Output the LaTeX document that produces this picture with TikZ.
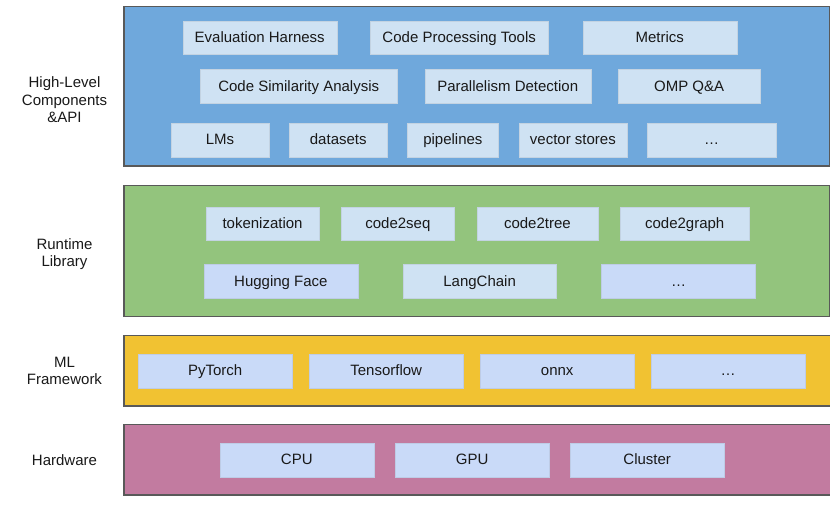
\documentclass[tikz,border=0pt]{standalone}
\usepackage{fontspec}
\setmainfont{Liberation Sans}
\definecolor{layblue}{HTML}{6FA8DC}
\definecolor{laygreen}{HTML}{93C47D}
\definecolor{layyellow}{HTML}{F1C232}
\definecolor{laypink}{HTML}{C27BA0}
\definecolor{boxa}{HTML}{CFE2F3}
\definecolor{boxb}{HTML}{C9DAF8}
\definecolor{edge}{HTML}{595959}
\begin{document}
\begin{tikzpicture}[x=1pt,y=-1pt,
  every node/.style={font=\fontsize{15}{17.5}\selectfont, inner sep=0pt, text=black!90},
  layer/.style={draw=edge, line width=1.2pt},
  boxbase/.style={anchor=north west, line width=0.4pt, text height=12.4pt, text depth=3.2pt},
  box/.style={boxbase, fill=boxa, draw=boxa!85!gray},
  boxv/.style={boxbase, fill=boxb, draw=boxb!85!gray},
  lab/.style={align=center}]
\useasboundingbox[fill=white] (0,0) rectangle (830,515);
% layers
\fill[layblue] (124,6.5) rectangle (829.5,166);
\draw[layer] (124,6.5) rectangle (829.5,166);
\fill[laygreen] (124,185.5) rectangle (829.5,316.5);
\draw[layer] (124,185.5) rectangle (829.5,316.5);
\fill[layyellow] (124,335.5) rectangle (830.5,406);
\draw[layer] (124,335.5) rectangle (830.5,406);
\fill[laypink] (124,424.5) rectangle (830.5,495);
\draw[layer] (124,424.5) rectangle (830.5,495);
% labels
\node[lab] (l1) at (64.5,100) {High-Level\\Components\\\&API};
\node[lab] (l2) at (64.5,254) {Runtime\\Library};
\node[lab] (l3) at (64.5,371) {ML\\Framework};
\node[lab] (l4) at (64.5,460) {Hardware};
% high-level
\node[box, minimum width=154, minimum height=33.5] (b1) at (182.5,20.8) {Evaluation Harness};
\node[box, minimum width=178, minimum height=33.5] (b2) at (370,20.8) {Code Processing Tools};
\node[box, minimum width=154, minimum height=33.5] (b3) at (582.5,20.8) {Metrics};
\node[box, minimum width=197, minimum height=34] (b4) at (200,69.3) {Code Similarity Analysis};
\node[box, minimum width=166, minimum height=34] (b5) at (424.5,69.3) {Parallelism Detection};
\node[box, minimum width=142.5, minimum height=34] (b6) at (617.7,69.3) {OMP Q\&A};
\node[box, minimum width=97.5, minimum height=33.5] (b7) at (171,123.3) {LMs};
\node[box, minimum width=97.5, minimum height=33.5] (b8) at (289.3,123.3) {datasets};
\node[box, minimum width=90.7, minimum height=33.5] (b9) at (407.3,123.3) {pipelines};
\node[box, minimum width=108, minimum height=33.5] (b10) at (518.7,123.3) {vector stores};
\node[box, minimum width=129, minimum height=33.5] (b11) at (647,123.3) {\dots};
% runtime
\node[box, minimum width=113.3, minimum height=33.6] (r1) at (205.7,206.7) {tokenization};
\node[box, minimum width=113.3, minimum height=33.6] (r2) at (341,206.7) {code2seq};
\node[box, minimum width=121, minimum height=33.6] (r3) at (476.7,206.7) {code2tree};
\node[box, minimum width=129, minimum height=33.6] (r4) at (620,206.7) {code2graph};
\node[boxv, minimum width=154, minimum height=34] (r5) at (203.7,264.3) {Hugging Face};
\node[box, minimum width=153.5, minimum height=34] (r6) at (402.7,264.3) {LangChain};
\node[boxv, minimum width=154, minimum height=34] (r7) at (601.3,264.3) {\dots};
% ML framework
\node[boxv, minimum width=154, minimum height=33.7] (m1) at (138,354) {PyTorch};
\node[boxv, minimum width=154, minimum height=33.7] (m2) at (309,354) {Tensorflow};
\node[boxv, minimum width=154, minimum height=33.7] (m3) at (480,354) {onnx};
\node[boxv, minimum width=154, minimum height=33.7] (m4) at (651,354) {\dots};
% hardware
\node[boxv, minimum width=154, minimum height=33.7] (h1) at (219.6,443.3) {CPU};
\node[boxv, minimum width=154, minimum height=33.7] (h2) at (395,443.3) {GPU};
\node[boxv, minimum width=154, minimum height=33.7] (h3) at (570,443.3) {Cluster};
\end{tikzpicture}
\end{document}
